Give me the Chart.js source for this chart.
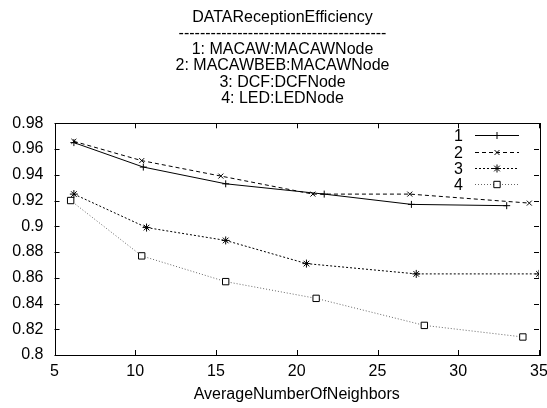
<!DOCTYPE html>
<html>
<head>
<meta charset="utf-8">
<script src="https://cdn.jsdelivr.net/npm/chart.js@4.4.1/dist/chart.umd.min.js"></script>
<style>
  body { margin: 0; background: #fff; }
</style>
</head>
<body>
<canvas id="efficiency" width="547" height="408"></canvas>
<script>
// series names, as printed in the title block
var seriesNames = ['MACAW:MACAWNode', 'MACAWBEB:MACAWNode', 'DCF:DCFNode', 'LED:LEDNode'];

// average number of neighbors (x) and reception efficiency (y)
var macawX    = [6.2, 10.5, 15.6, 21.7, 27.1, 33.0];
var macawY    = [0.965, 0.946, 0.933, 0.925, 0.917, 0.916];
var macawbebX = [6.2, 10.4, 15.3, 21.0, 27.0, 34.4];
var macawbebY = [0.966, 0.951, 0.939, 0.925, 0.925, 0.918];
var dcfX      = [6.2, 10.7, 15.6, 20.6, 27.4, 35.0];
var dcfY      = [0.925, 0.899, 0.889, 0.871, 0.863, 0.863];
var ledX      = [6.0, 10.4, 15.6, 21.2, 27.9, 34.0];
var ledY      = [0.920, 0.877, 0.857, 0.844, 0.823, 0.814];

var xTicks = [5, 10, 15, 20, 25, 30, 35];
var yTicks = [0.8, 0.82, 0.84, 0.86, 0.88, 0.9, 0.92, 0.94, 0.96, 0.98];

var FONT = "'Liberation Sans', Arial, sans-serif";

function points(xs, ys) {
    return xs.map(function(x, i) { return { x: x, y: ys[i] }; });
}

var titleLines = ['DATAReceptionEfficiency', '---------------------------------------']
    .concat(seriesNames.map(function(n, i) { return (i + 1) + ': ' + n; }));

// title sits a bit right of the canvas middle, like the gnuplot original
var titleShift = {
    id: 'titleShift',
    afterLayout: function(chart) {
        if (chart.titleBlock) chart.titleBlock.left += 18;
    }
};

// gnuplot style frame with inward ticks on all four sides
var frameTicks = {
    id: 'frameTicks',
    afterDatasetsDraw: function(chart) {
        var ctx = chart.ctx, a = chart.chartArea;
        var xs = chart.scales.x, ys = chart.scales.y, len = 5;
        ctx.save();
        ctx.strokeStyle = '#000';
        ctx.lineWidth = 1;
        ctx.beginPath();
        xTicks.forEach(function(v) {
            var px = Math.round(xs.getPixelForValue(v)) + 0.5;
            ctx.moveTo(px, a.bottom); ctx.lineTo(px, a.bottom - len);
            ctx.moveTo(px, a.top); ctx.lineTo(px, a.top + len);
        });
        yTicks.forEach(function(v) {
            var py = Math.round(ys.getPixelForValue(v)) + 0.5;
            ctx.moveTo(a.left, py); ctx.lineTo(a.left + len, py);
            ctx.moveTo(a.right, py); ctx.lineTo(a.right - len, py);
        });
        ctx.stroke();
        ctx.strokeRect(Math.round(a.left) + 0.5, Math.round(a.top) + 0.5,
                       Math.round(a.right - a.left), Math.round(a.bottom - a.top));
        ctx.restore();
    }
};

// key in the top right corner: number, then line sample with marker
var keyBox = {
    id: 'keyBox',
    afterDatasetsDraw: function(chart) {
        var ctx = chart.ctx, a = chart.chartArea;
        var textRight = a.right - 76, x0 = a.right - 64, x1 = a.right - 20;
        ctx.save();
        ctx.font = '16px ' + FONT;
        ctx.textAlign = 'right';
        ctx.textBaseline = 'middle';
        chart.data.datasets.forEach(function(ds, i) {
            var y = Math.round(a.top + 12 + i * 16.3) + 0.5;
            ctx.fillStyle = '#000';
            ctx.fillText(String(i + 1), textRight, y + 1);
            ctx.strokeStyle = ds.borderColor;
            ctx.lineWidth = 1;
            ctx.setLineDash(ds.borderDash || []);
            ctx.beginPath();
            ctx.moveTo(x0, y);
            ctx.lineTo(x1, y);
            ctx.stroke();
            ctx.setLineDash([]);
            ctx.fillStyle = ds.pointBackgroundColor;
            ctx.strokeStyle = ds.pointBorderColor;
            Chart.helpers.drawPoint(ctx, {
                pointStyle: ds.pointStyle, radius: ds.pointRadius, borderWidth: 1
            }, (x0 + x1) / 2, y);
        });
        ctx.restore();
    }
};

var ctx = document.getElementById('efficiency').getContext('2d');

var efficiencyChart = new Chart(ctx, {
    type: 'line',
    data: {
        datasets: [{
            label: '1',
            data: points(macawX, macawY),
            borderColor: '#000',
            borderWidth: 1,
            pointStyle: 'cross',
            pointRadius: 3.5,
            pointBorderColor: '#000',
            pointBackgroundColor: '#000'
        }, {
            label: '2',
            data: points(macawbebX, macawbebY),
            borderColor: '#000',
            borderWidth: 1,
            borderDash: [4, 3],
            pointStyle: 'crossRot',
            pointRadius: 3.5,
            pointBorderColor: '#000',
            pointBackgroundColor: '#000'
        }, {
            label: '3',
            data: points(dcfX, dcfY),
            borderColor: '#000',
            borderWidth: 1,
            borderDash: [2, 2],
            pointStyle: 'star',
            pointRadius: 4,
            pointBorderColor: '#000',
            pointBackgroundColor: '#000'
        }, {
            label: '4',
            data: points(ledX, ledY),
            borderColor: '#666',
            borderWidth: 1,
            borderDash: [1, 2],
            pointStyle: 'rect',
            pointRadius: 4.5,
            pointBorderColor: '#000',
            pointBackgroundColor: '#fff'
        }]
    },
    options: {
        responsive: false,
        animation: false,
        layout: { padding: 0 },
        plugins: {
            legend: { display: false },
            tooltip: { enabled: false },
            title: {
                display: true,
                text: titleLines,
                color: '#000',
                font: { family: FONT, size: 16, weight: 'normal', lineHeight: '16.3px' },
                padding: { top: 9, bottom: 16.5 }
            }
        },
        scales: {
            x: {
                type: 'linear',
                min: 5,
                max: 35,
                afterBuildTicks: function(scale) {
                    scale.ticks = xTicks.map(function(v) { return { value: v }; });
                },
                afterFit: function(scale) {
                    scale.height = 53;
                    scale.paddingLeft = 0;
                    scale.paddingRight = 8;
                },
                grid: { display: false, drawTicks: false },
                border: { display: false },
                ticks: {
                    color: '#000',
                    padding: 7,
                    maxRotation: 0,
                    font: { family: FONT, size: 16 }
                },
                title: {
                    display: true,
                    text: 'AverageNumberOfNeighbors',
                    color: '#000',
                    font: { family: FONT, size: 16 },
                    padding: { top: 0, bottom: 4 }
                }
            },
            y: {
                type: 'linear',
                min: 0.8,
                max: 0.98,
                afterBuildTicks: function(scale) {
                    scale.ticks = yTicks.map(function(v) { return { value: v }; });
                },
                afterFit: function(scale) {
                    scale.width = 54.5;
                    scale.paddingTop = 0;
                    scale.paddingBottom = 0;
                },
                grid: { display: false, drawTicks: false },
                border: { display: false },
                ticks: {
                    color: '#000',
                    padding: 11,
                    font: { family: FONT, size: 16 },
                    callback: function(v) { return String(Number(v.toFixed(2))); }
                }
            }
        }
    },
    plugins: [titleShift, frameTicks, keyBox]
});
</script>
</body>
</html>
